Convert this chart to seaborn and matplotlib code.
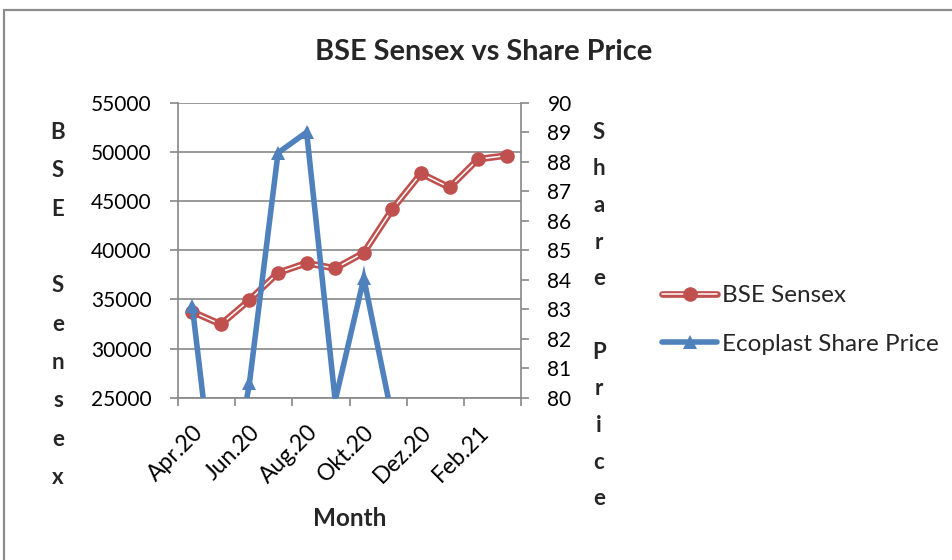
import matplotlib
matplotlib.use("Agg")
import matplotlib.pyplot as plt
import seaborn as sns
import pandas as pd
import numpy as np
from matplotlib.lines import Line2D
from matplotlib.legend_handler import HandlerTuple
from matplotlib.patches import Rectangle

months = ["Apr.20", "Mai.20", "Jun.20", "Jul.20", "Aug.20", "Sep.20",
          "Okt.20", "Nov.20", "Dez.20", "Jan.21", "Feb.21", "Mär.21"]
sensex = [33740, 32460, 34930, 37700, 38690, 38150,
          39740, 44180, 47800, 46380, 49260, 49630]
share_price = [83.1, 74.9, 80.5, 88.3, 89.0, 79.9,
               84.05, 79.3, 78.5, 77.5, 78.0, 76.5]
left_ticks = [25000, 30000, 35000, 40000, 45000, 50000, 55000]
right_ticks = list(range(80, 91))

RED = "#C0504D"
BLUE = "#4F81BD"
GRID = "#888888"

sns.set_theme(style="white")
plt.rcParams["font.family"] = ["Lato", "DejaVu Sans"]

df = pd.DataFrame({"idx": np.arange(len(months)), "month": months,
                   "sensex": sensex, "price": share_price})

W, H = 952, 560
fig = plt.figure(figsize=(W / 100, H / 100), dpi=100)
ax = fig.add_axes([178 / W, 1 - 397.7 / H, (521 - 178) / W, (397.7 - 102.7) / H])
ax2 = ax.twinx()

# red: thick red line with thin white core
sns.lineplot(data=df, x="idx", y="sensex", ax=ax, color=RED, lw=4.8,
             solid_capstyle="round", legend=False, zorder=3)
sns.lineplot(data=df, x="idx", y="sensex", ax=ax, color="white", lw=1.1,
             legend=False, zorder=4)
sns.lineplot(data=df, x="idx", y="sensex", ax=ax, color=RED, lw=0,
             marker="o", markersize=10.5, markeredgewidth=0, legend=False, zorder=5)

sns.lineplot(data=df, x="idx", y="price", ax=ax2, color=BLUE, lw=4.0,
             marker="^", markersize=10.5, markeredgewidth=0, legend=False,
             solid_joinstyle="miter", zorder=5)

ax.set_xlim(-0.5, len(months) - 0.5)
ax.set_ylim(25000, 55000)
ax2.set_ylim(80, 90)
ax.set_yticks(left_ticks)
ax2.set_yticks(right_ticks)
ax.set_xticks(np.arange(0, len(months), 2))
ax.set_xticklabels(months[::2], rotation=45, ha="right", rotation_mode="anchor")
ax.set_xticks(np.arange(-0.5, len(months), 2), minor=True)

ax.yaxis.grid(True, color=GRID, lw=1.2)
ax.xaxis.grid(False)
ax2.grid(False)

for a in (ax, ax2):
    for s in a.spines.values():
        s.set_visible(False)
    a.set_xlabel("")
    a.set_ylabel("")
ax.spines["left"].set_visible(True)
ax.spines["bottom"].set_visible(True)
ax2.spines["right"].set_visible(True)
for s in (ax.spines["left"], ax.spines["bottom"], ax2.spines["right"]):
    s.set_color(GRID)
    s.set_linewidth(1.2)

ax.tick_params(axis="y", which="major", left=True, length=6, width=1.2,
               color=GRID, pad=13, labelsize=15, labelcolor="black")
ax2.tick_params(axis="y", which="major", right=True, length=6, width=1.2,
                color=GRID, pad=13, labelsize=15, labelcolor="black")
ax.tick_params(axis="x", which="major", bottom=False, length=0, pad=17,
               labelsize=16.5, labelcolor="black")
ax.tick_params(axis="x", which="minor", bottom=True, length=6, width=1.2,
               color=GRID)

# titles
fig.text(484 / W, 1 - 52 / H, "BSE Sensex vs Share Price", ha="center",
         va="center", fontsize=20.8, fontweight="bold")
fig.text(350 / W, 1 - 518 / H, "Month", ha="center", va="center",
         fontsize=17.5, fontweight="bold")
fig.text(58 / W, 1 - 305 / H, "\n".join(list("BSE Sensex")), ha="center",
         va="center", fontsize=16, fontweight="bold", linespacing=2.02)
fig.text(599 / W, 1 - 315.5 / H, "\n".join(list("Share Price")), ha="center",
         va="center", fontsize=16, fontweight="bold", linespacing=1.92)

# legend
h_red = (Line2D([], [], color=RED, lw=4.8),
         Line2D([], [], color="white", lw=1.1),
         Line2D([], [], color=RED, lw=0, marker="o", markersize=10.5,
                markeredgewidth=0))
h_blue = Line2D([], [], color=BLUE, lw=4.0, marker="^", markersize=10.5,
                markeredgewidth=0)
fig.legend([h_red, h_blue], ["BSE Sensex", "Ecoplast Share Price"],
           handler_map={tuple: HandlerTuple(ndivide=1, pad=0)},
           loc="center left", bbox_to_anchor=(662 / W, 1 - 320 / H),
           frameon=False, fontsize=17.5, handlelength=2.27, handletextpad=0.2,
           labelspacing=1.15, borderpad=0, borderaxespad=0)

# outer chart border
fig.patches.append(Rectangle((4 / W, -0.1), 1.2, 1 - 10 / H + 0.1,
                             transform=fig.transFigure, fill=False,
                             edgecolor="#8C8C8C", lw=1.6))

fig.savefig("out.png", dpi=100)
